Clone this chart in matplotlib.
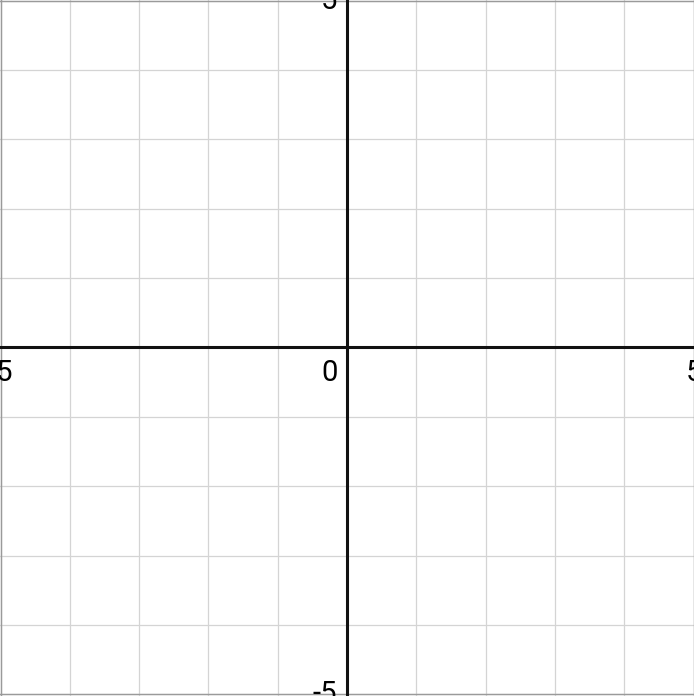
import numpy as np
import matplotlib.pyplot as plt

# axis range and labels (Desmos-style blank graph)
grid_vals = [-5, -4, -3, -2, -1, 0, 1, 2, 3, 4, 5]
x_label_vals = [-5, 5]
y_label_vals = [-5, 5]
x_label_text = ["-5", "5"]
y_label_text = ["-5", "5"]
origin_text = "0"

plt.rcParams['font.family'] = ['Roboto', 'DejaVu Sans']

fig = plt.figure(figsize=(6.94, 6.96), dpi=100)
ax = fig.add_axes([0, 0, 1, 1])

ppu = 69.3  # pixels per unit
ax.set_xlim(-5 - 0.5 / ppu, 5 + 0.5 / ppu)
ax.set_ylim(-5 - 1.5 / ppu, 5 + 0.5 / ppu)

for v in grid_vals:
    if v == 0:
        continue
    ax.axvline(v, color='#d4d4d4', lw=0.9, zorder=1)
    ax.axhline(v, color='#d4d4d4', lw=0.9, zorder=1)

# outer border
for v in [-5, 5]:
    ax.axvline(v, color='#9a9a9a', lw=1.0, zorder=2)
    ax.axhline(v, color='#9a9a9a', lw=1.0, zorder=2)

# main axes
ax.axvline(0, color='#111111', lw=2.2, zorder=3)
ax.axhline(0, color='#111111', lw=2.2, zorder=3)

for v, t in zip(x_label_vals, x_label_text):
    ax.annotate(t, (v, 0), xytext=(0, -8), textcoords='offset points',
                ha='center', va='top', fontsize=21, color='black')
for v, t in zip(y_label_vals, y_label_text):
    ax.annotate(t, (0, v), xytext=(-7, 0), textcoords='offset points',
                ha='right', va='center', fontsize=21, color='black')
ax.annotate(origin_text, (0, 0), xytext=(-7, -8), textcoords='offset points',
            ha='right', va='top', fontsize=21, color='black')

ax.set_xticks([])
ax.set_yticks([])
for s in ax.spines.values():
    s.set_visible(False)

fig.savefig('out.png', dpi=100)
